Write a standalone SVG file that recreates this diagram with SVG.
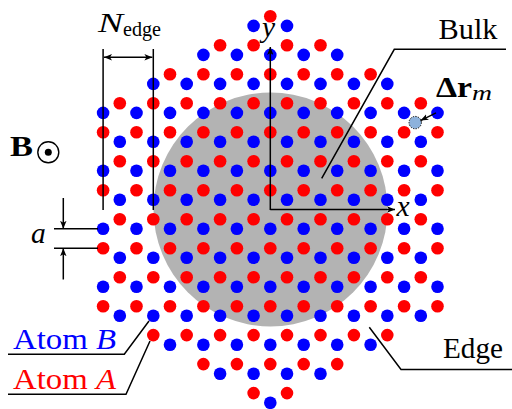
<svg xmlns="http://www.w3.org/2000/svg" width="512" height="409" viewBox="0 0 512 409">
<style>
.b{fill:#0000ff}
.a{fill:#ff0000}
.ln{stroke:#000;stroke-width:1.5;fill:none}
.t{font-family:"Liberation Serif",serif;font-size:29.5px;fill:#000}
.i{font-style:italic}
.bd{font-weight:bold}
</style>
<defs>
<marker id="ah" viewBox="0 0 10 8" refX="10" refY="4" markerWidth="8" markerHeight="6.4" markerUnits="userSpaceOnUse" orient="auto-start-reverse">
<path d="M0,0 L10,4 L0,8 L2.5,4 z" fill="#000"/>
</marker>
</defs>
<rect width="512" height="409" fill="#fff"/>
<g id="bulk-region"><circle cx="270.5" cy="209.5" r="117" fill="#b3b3b3"/></g>
<g id="lattice">
<g transform="translate(103.1,0)"><circle class="b" cy="112.9" r="6.3"/><circle class="b" cy="170.8" r="6.3"/><circle class="b" cy="228.8" r="6.3"/><circle class="b" cy="286.8" r="6.3"/><circle class="a" cy="132.2" r="6.3"/><circle class="a" cy="190.2" r="6.3"/><circle class="a" cy="248.2" r="6.3"/><circle class="a" cy="306.2" r="6.3"/></g>
<g transform="translate(119.8,0)"><circle class="b" cy="141.8" r="6.3"/><circle class="b" cy="199.8" r="6.3"/><circle class="b" cy="257.8" r="6.3"/><circle class="b" cy="315.8" r="6.3"/><circle class="a" cy="103.2" r="6.3"/><circle class="a" cy="161.2" r="6.3"/><circle class="a" cy="219.2" r="6.3"/><circle class="a" cy="277.2" r="6.3"/></g>
<g transform="translate(136.5,0)"><circle class="b" cy="112.9" r="6.3"/><circle class="b" cy="170.8" r="6.3"/><circle class="b" cy="228.8" r="6.3"/><circle class="b" cy="286.8" r="6.3"/><circle class="a" cy="132.2" r="6.3"/><circle class="a" cy="190.2" r="6.3"/><circle class="a" cy="248.2" r="6.3"/><circle class="a" cy="306.2" r="6.3"/></g>
<g transform="translate(153.3,0)"><circle class="b" cy="83.9" r="6.3"/><circle class="b" cy="141.8" r="6.3"/><circle class="b" cy="199.8" r="6.3"/><circle class="b" cy="257.8" r="6.3"/><circle class="b" cy="315.8" r="6.3"/><circle class="a" cy="103.2" r="6.3"/><circle class="a" cy="161.2" r="6.3"/><circle class="a" cy="219.2" r="6.3"/><circle class="a" cy="277.2" r="6.3"/><circle class="a" cy="335.1" r="6.3"/></g>
<g transform="translate(170,0)"><circle class="b" cy="112.9" r="6.3"/><circle class="b" cy="170.8" r="6.3"/><circle class="b" cy="228.8" r="6.3"/><circle class="b" cy="286.8" r="6.3"/><circle class="b" cy="344.8" r="6.3"/><circle class="a" cy="74.2" r="6.3"/><circle class="a" cy="132.2" r="6.3"/><circle class="a" cy="190.2" r="6.3"/><circle class="a" cy="248.2" r="6.3"/><circle class="a" cy="306.2" r="6.3"/></g>
<g transform="translate(186.7,0)"><circle class="b" cy="83.9" r="6.3"/><circle class="b" cy="141.8" r="6.3"/><circle class="b" cy="199.8" r="6.3"/><circle class="b" cy="257.8" r="6.3"/><circle class="b" cy="315.8" r="6.3"/><circle class="a" cy="103.2" r="6.3"/><circle class="a" cy="161.2" r="6.3"/><circle class="a" cy="219.2" r="6.3"/><circle class="a" cy="277.2" r="6.3"/><circle class="a" cy="335.1" r="6.3"/></g>
<g transform="translate(203.4,0)"><circle class="b" cy="54.9" r="6.3"/><circle class="b" cy="112.9" r="6.3"/><circle class="b" cy="170.8" r="6.3"/><circle class="b" cy="228.8" r="6.3"/><circle class="b" cy="286.8" r="6.3"/><circle class="b" cy="344.8" r="6.3"/><circle class="a" cy="74.2" r="6.3"/><circle class="a" cy="132.2" r="6.3"/><circle class="a" cy="190.2" r="6.3"/><circle class="a" cy="248.2" r="6.3"/><circle class="a" cy="306.2" r="6.3"/><circle class="a" cy="364.1" r="6.3"/></g>
<g transform="translate(220.1,0)"><circle class="b" cy="83.9" r="6.3"/><circle class="b" cy="141.8" r="6.3"/><circle class="b" cy="199.8" r="6.3"/><circle class="b" cy="257.8" r="6.3"/><circle class="b" cy="315.8" r="6.3"/><circle class="b" cy="373.8" r="6.3"/><circle class="a" cy="45.2" r="6.3"/><circle class="a" cy="103.2" r="6.3"/><circle class="a" cy="161.2" r="6.3"/><circle class="a" cy="219.2" r="6.3"/><circle class="a" cy="277.2" r="6.3"/><circle class="a" cy="335.1" r="6.3"/></g>
<g transform="translate(236.9,0)"><circle class="b" cy="54.9" r="6.3"/><circle class="b" cy="112.9" r="6.3"/><circle class="b" cy="170.8" r="6.3"/><circle class="b" cy="228.8" r="6.3"/><circle class="b" cy="286.8" r="6.3"/><circle class="b" cy="344.8" r="6.3"/><circle class="a" cy="74.2" r="6.3"/><circle class="a" cy="132.2" r="6.3"/><circle class="a" cy="190.2" r="6.3"/><circle class="a" cy="248.2" r="6.3"/><circle class="a" cy="306.2" r="6.3"/><circle class="a" cy="364.1" r="6.3"/></g>
<g transform="translate(253.6,0)"><circle class="b" cy="25.9" r="6.3"/><circle class="b" cy="83.9" r="6.3"/><circle class="b" cy="141.8" r="6.3"/><circle class="b" cy="199.8" r="6.3"/><circle class="b" cy="257.8" r="6.3"/><circle class="b" cy="315.8" r="6.3"/><circle class="b" cy="373.8" r="6.3"/><circle class="a" cy="45.2" r="6.3"/><circle class="a" cy="103.2" r="6.3"/><circle class="a" cy="161.2" r="6.3"/><circle class="a" cy="219.2" r="6.3"/><circle class="a" cy="277.2" r="6.3"/><circle class="a" cy="335.1" r="6.3"/><circle class="a" cy="393.1" r="6.3"/></g>
<g transform="translate(270.3,0)"><circle class="b" cy="54.9" r="6.3"/><circle class="b" cy="112.9" r="6.3"/><circle class="b" cy="170.8" r="6.3"/><circle class="b" cy="228.8" r="6.3"/><circle class="b" cy="286.8" r="6.3"/><circle class="b" cy="344.8" r="6.3"/><circle class="b" cy="402.8" r="6.3"/><circle class="a" cy="16.2" r="6.3"/><circle class="a" cy="74.2" r="6.3"/><circle class="a" cy="132.2" r="6.3"/><circle class="a" cy="190.2" r="6.3"/><circle class="a" cy="248.2" r="6.3"/><circle class="a" cy="306.2" r="6.3"/><circle class="a" cy="364.1" r="6.3"/></g>
<g transform="translate(287,0)"><circle class="b" cy="25.9" r="6.3"/><circle class="b" cy="83.9" r="6.3"/><circle class="b" cy="141.8" r="6.3"/><circle class="b" cy="199.8" r="6.3"/><circle class="b" cy="257.8" r="6.3"/><circle class="b" cy="315.8" r="6.3"/><circle class="b" cy="373.8" r="6.3"/><circle class="a" cy="45.2" r="6.3"/><circle class="a" cy="103.2" r="6.3"/><circle class="a" cy="161.2" r="6.3"/><circle class="a" cy="219.2" r="6.3"/><circle class="a" cy="277.2" r="6.3"/><circle class="a" cy="335.1" r="6.3"/><circle class="a" cy="393.1" r="6.3"/></g>
<g transform="translate(303.7,0)"><circle class="b" cy="54.9" r="6.3"/><circle class="b" cy="112.9" r="6.3"/><circle class="b" cy="170.8" r="6.3"/><circle class="b" cy="228.8" r="6.3"/><circle class="b" cy="286.8" r="6.3"/><circle class="b" cy="344.8" r="6.3"/><circle class="a" cy="74.2" r="6.3"/><circle class="a" cy="132.2" r="6.3"/><circle class="a" cy="190.2" r="6.3"/><circle class="a" cy="248.2" r="6.3"/><circle class="a" cy="306.2" r="6.3"/><circle class="a" cy="364.1" r="6.3"/></g>
<g transform="translate(320.5,0)"><circle class="b" cy="83.9" r="6.3"/><circle class="b" cy="141.8" r="6.3"/><circle class="b" cy="199.8" r="6.3"/><circle class="b" cy="257.8" r="6.3"/><circle class="b" cy="315.8" r="6.3"/><circle class="b" cy="373.8" r="6.3"/><circle class="a" cy="45.2" r="6.3"/><circle class="a" cy="103.2" r="6.3"/><circle class="a" cy="161.2" r="6.3"/><circle class="a" cy="219.2" r="6.3"/><circle class="a" cy="277.2" r="6.3"/><circle class="a" cy="335.1" r="6.3"/></g>
<g transform="translate(337.2,0)"><circle class="b" cy="54.9" r="6.3"/><circle class="b" cy="112.9" r="6.3"/><circle class="b" cy="170.8" r="6.3"/><circle class="b" cy="228.8" r="6.3"/><circle class="b" cy="286.8" r="6.3"/><circle class="b" cy="344.8" r="6.3"/><circle class="a" cy="74.2" r="6.3"/><circle class="a" cy="132.2" r="6.3"/><circle class="a" cy="190.2" r="6.3"/><circle class="a" cy="248.2" r="6.3"/><circle class="a" cy="306.2" r="6.3"/><circle class="a" cy="364.1" r="6.3"/></g>
<g transform="translate(353.9,0)"><circle class="b" cy="83.9" r="6.3"/><circle class="b" cy="141.8" r="6.3"/><circle class="b" cy="199.8" r="6.3"/><circle class="b" cy="257.8" r="6.3"/><circle class="b" cy="315.8" r="6.3"/><circle class="a" cy="103.2" r="6.3"/><circle class="a" cy="161.2" r="6.3"/><circle class="a" cy="219.2" r="6.3"/><circle class="a" cy="277.2" r="6.3"/><circle class="a" cy="335.1" r="6.3"/></g>
<g transform="translate(370.6,0)"><circle class="b" cy="112.9" r="6.3"/><circle class="b" cy="170.8" r="6.3"/><circle class="b" cy="228.8" r="6.3"/><circle class="b" cy="286.8" r="6.3"/><circle class="b" cy="344.8" r="6.3"/><circle class="a" cy="74.2" r="6.3"/><circle class="a" cy="132.2" r="6.3"/><circle class="a" cy="190.2" r="6.3"/><circle class="a" cy="248.2" r="6.3"/><circle class="a" cy="306.2" r="6.3"/></g>
<g transform="translate(387.3,0)"><circle class="b" cy="83.9" r="6.3"/><circle class="b" cy="141.8" r="6.3"/><circle class="b" cy="199.8" r="6.3"/><circle class="b" cy="257.8" r="6.3"/><circle class="b" cy="315.8" r="6.3"/><circle class="a" cy="103.2" r="6.3"/><circle class="a" cy="161.2" r="6.3"/><circle class="a" cy="219.2" r="6.3"/><circle class="a" cy="277.2" r="6.3"/><circle class="a" cy="335.1" r="6.3"/></g>
<g transform="translate(404.1,0)"><circle class="b" cy="112.9" r="6.3"/><circle class="b" cy="170.8" r="6.3"/><circle class="b" cy="228.8" r="6.3"/><circle class="b" cy="286.8" r="6.3"/><circle class="a" cy="132.2" r="6.3"/><circle class="a" cy="190.2" r="6.3"/><circle class="a" cy="248.2" r="6.3"/><circle class="a" cy="306.2" r="6.3"/></g>
<g transform="translate(420.8,0)"><circle class="b" cy="141.8" r="6.3"/><circle class="b" cy="199.8" r="6.3"/><circle class="b" cy="257.8" r="6.3"/><circle class="b" cy="315.8" r="6.3"/><circle class="a" cy="103.2" r="6.3"/><circle class="a" cy="161.2" r="6.3"/><circle class="a" cy="219.2" r="6.3"/><circle class="a" cy="277.2" r="6.3"/></g>
<g transform="translate(437.5,0)"><circle class="b" cy="112.9" r="6.3"/><circle class="b" cy="170.8" r="6.3"/><circle class="b" cy="228.8" r="6.3"/><circle class="b" cy="286.8" r="6.3"/><circle class="a" cy="132.2" r="6.3"/><circle class="a" cy="190.2" r="6.3"/><circle class="a" cy="248.2" r="6.3"/><circle class="a" cy="306.2" r="6.3"/></g>
</g>
<g id="displaced-atom"><circle cx="415.2" cy="122.6" r="6.2" fill="#8db2dc" stroke="#000" stroke-width="1" stroke-dasharray="1.3,1.3"/></g>
<g id="connectors">
<line class="ln" x1="270.3" y1="210" x2="270.3" y2="47" marker-end="url(#ah)"/>
<line class="ln" x1="270.3" y1="209.5" x2="395" y2="209.5" marker-end="url(#ah)"/>
<line class="ln" x1="103.1" y1="49" x2="103.1" y2="210"/>
<line class="ln" x1="153.3" y1="49" x2="153.3" y2="210"/>
<line class="ln" x1="104" y1="57.3" x2="152.4" y2="57.3" marker-start="url(#ah)" marker-end="url(#ah)"/>
<line class="ln" x1="54" y1="228.8" x2="98" y2="228.8"/>
<line class="ln" x1="54" y1="248.2" x2="98" y2="248.2"/>
<line class="ln" x1="63.3" y1="198" x2="63.3" y2="228.8" marker-end="url(#ah)"/>
<line class="ln" x1="63.3" y1="279.5" x2="63.3" y2="248.2" marker-end="url(#ah)"/>
<line class="ln" x1="436" y1="112.8" x2="420.5" y2="120.6" marker-end="url(#ah)"/>
<polyline class="ln" stroke-width="1.7" points="506,49.3 394.3,49.3 321.7,178.3"/>
<polyline class="ln" stroke-width="1.7" points="512,369.5 401,369.5 369.3,327.3"/>
<polyline class="ln" stroke-width="1.7" points="8,354.3 124.3,354.3 149,321"/>
<polyline class="ln" stroke-width="1.7" points="8,394.3 126,394.3 150,341"/>
</g>
<g id="labels">
<g id="field"><text class="t bd" x="10" y="155.5" font-size="31" textLength="23" lengthAdjust="spacingAndGlyphs">B</text><circle cx="48.3" cy="152.3" r="10.5" fill="none" stroke="#000" stroke-width="1.4"/><circle cx="48.3" cy="152.3" r="3.5" fill="#000"/></g>
<text class="t" x="98" y="31.7"><tspan class="i" font-size="27" textLength="25" lengthAdjust="spacingAndGlyphs">N</tspan><tspan font-size="20" dy="4.3" textLength="38" lengthAdjust="spacingAndGlyphs">edge</tspan></text>
<text class="t i" x="262" y="37">y</text>
<text class="t i" x="396.5" y="216">x</text>
<text class="t" x="438.5" y="39.3" textLength="59" lengthAdjust="spacingAndGlyphs">Bulk</text>
<text class="t bd" x="436" y="97" font-size="27"><tspan textLength="36" lengthAdjust="spacingAndGlyphs">Δr</tspan><tspan class="i" font-weight="normal" font-size="21" dy="3" textLength="20" lengthAdjust="spacingAndGlyphs">m</tspan></text>
<text class="t" x="443" y="357.5" textLength="60" lengthAdjust="spacingAndGlyphs">Edge</text>
<text class="t i" x="31" y="243.3" font-size="31">a</text>
<text class="t" x="13" y="349" style="fill:#0000ff" textLength="103" lengthAdjust="spacingAndGlyphs">Atom <tspan class="i">B</tspan></text>
<text class="t" x="13" y="389" style="fill:#ff0000" textLength="103" lengthAdjust="spacingAndGlyphs">Atom <tspan class="i">A</tspan></text>
</g>
</svg>
